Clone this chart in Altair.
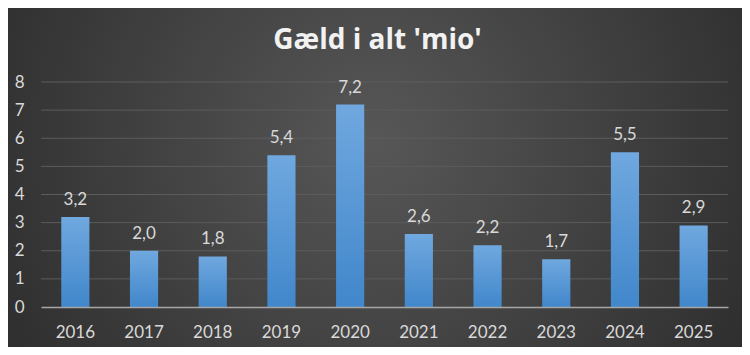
import altair as alt
import pandas as pd

years = ["2016", "2017", "2018", "2019", "2020", "2021", "2022", "2023", "2024", "2025"]
values = [3.2, 2.0, 1.8, 5.4, 7.2, 2.6, 2.2, 1.7, 5.5, 2.9]
labels = ["3,2", "2,0", "1,8", "5,4", "7,2", "2,6", "2,2", "1,7", "5,5", "2,9"]
grid_ticks = [1, 2, 3, 4, 5, 6, 7, 8]
y_ticks = [0, 1, 2, 3, 4, 5, 6, 7, 8]

FONT = "Lato"
TXT = "#d9d9d9"

df = pd.DataFrame({"year": years, "value": values, "label": labels})
grid_df = pd.DataFrame({"tick": grid_ticks})
bg_df = pd.DataFrame({"k": [0]})

xscale = alt.Scale(paddingInner=0.59, paddingOuter=0.295)
yscale = alt.Scale(domain=[0, 8], nice=False)

xaxis = alt.Axis(title=None, labelAngle=0, ticks=False, domain=True,
                 domainColor="#a6a6a6", domainWidth=1.5, zindex=1,
                 labelFont=FONT, labelFontSize=17, labelColor=TXT,
                 labelPadding=17)
yaxis = alt.Axis(title=None, values=y_ticks, grid=False,
                 labelOverlap=False,
                 domain=False, ticks=False, zindex=1, labelFont=FONT,
                 labelFontSize=17, labelColor=TXT, labelPadding=17)

bg = alt.Chart(bg_df).mark_rect(
    color=alt.RadialGradient(
        gradient="radial",
        x1=0.5, y1=0.45, r1=0,
        x2=0.5, y2=0.45, r2=0.75,
        stops=[alt.GradientStop(offset=0, color="#575757"),
               alt.GradientStop(offset=1, color="#222222")],
    )
).encode(
    x=alt.value(-33), x2=alt.value(701), y=alt.value(-74), y2=alt.value(265)
)

grid = alt.Chart(grid_df).mark_rule(color="#5c5c5c", strokeWidth=1).encode(
    y=alt.Y("tick:Q", scale=yscale, axis=yaxis)
)

bars = alt.Chart(df).mark_bar(
    color=alt.LinearGradient(
        gradient="linear", x1=0, x2=0, y1=1, y2=0,
        stops=[alt.GradientStop(offset=0, color="#4187cb"),
               alt.GradientStop(offset=1, color="#70a8df")],
    )
).encode(
    x=alt.X("year:N", scale=xscale, sort=years, axis=xaxis),
    y=alt.Y("value:Q", scale=yscale, axis=yaxis),
)

text = alt.Chart(df).mark_text(
    font=FONT, fontSize=17, color=TXT, baseline="bottom", dy=-8
).encode(
    x=alt.X("year:N", scale=xscale, sort=years, axis=xaxis),
    y=alt.Y("value:Q", scale=yscale, axis=yaxis),
    text="label:N",
)

chart = alt.layer(bg, grid, bars, text).properties(
    width=687,
    height=225,
    autosize="none",
    padding={"left": 33, "top": 74, "right": 14, "bottom": 40},
    title=alt.TitleParams(
        "Gæld i alt 'mio'", font="Open Sans", fontSize=28, fontWeight="bold",
        color="#f2f2f2", anchor="middle", dx=-7, offset=-69,
        baseline="alphabetic",
    ),
).configure_view(stroke=None).configure(background="#262626")

chart.save("out.html", embed_options={"renderer": "svg", "actions": False})
